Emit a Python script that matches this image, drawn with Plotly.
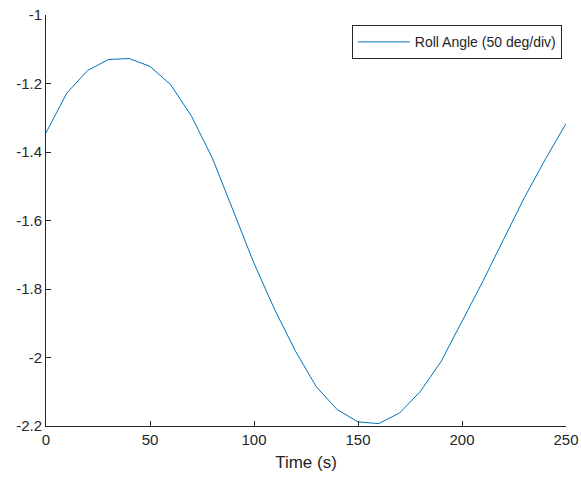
import plotly.graph_objects as go

time_s = [0, 10, 20, 30, 40, 50, 60, 70, 80, 90, 100, 110, 120, 130, 140, 150, 160, 170, 180, 190, 200, 210, 220, 230, 240, 250]
roll = [-1.344, -1.228, -1.162, -1.130, -1.127, -1.150, -1.204, -1.296, -1.418, -1.572, -1.725, -1.861,
        -1.982, -2.086, -2.152, -2.188, -2.193, -2.162, -2.099, -2.011, -1.895, -1.778, -1.655, -1.533,
        -1.422, -1.317]
x_ticks = [0, 50, 100, 150, 200, 250]
y_ticks = [-2.2, -2, -1.8, -1.6, -1.4, -1.2, -1]
y_tick_text = ["-2.2", "-2", "-1.8", "-1.6", "-1.4", "-1.2", "-1"]

fnt = "Liberation Sans, Arial, Helvetica, sans-serif"
axc = "#262626"

fig = go.Figure()
fig.add_trace(go.Scatter(x=time_s, y=roll, mode="lines", name="Roll Angle (50 deg/div)",
                         line=dict(color="#0072BD", width=1)))

fig.update_layout(
    width=581, height=481,
    margin=dict(l=46, r=15, t=15, b=55, autoexpand=False),
    paper_bgcolor="white", plot_bgcolor="white",
    font=dict(family=fnt, size=13, color=axc),
    showlegend=True,
    legend=dict(x=0.992, y=0.975, xanchor="right", yanchor="top",
                bordercolor=axc, borderwidth=1, bgcolor="white",
                font=dict(family=fnt, size=14, color=axc),
                itemwidth=52, tracegroupgap=0),
    xaxis=dict(range=[0, 250], tickvals=x_ticks, ticks="inside", ticklen=5, tickcolor=axc,
               showline=True, linecolor=axc, linewidth=1, showgrid=False, zeroline=False,
               automargin=False,
               tickfont=dict(family=fnt, size=15, color=axc),
               title=dict(text="Time (s)", font=dict(family=fnt, size=17, color=axc), standoff=9)),
    yaxis=dict(range=[-2.2, -1], tickvals=y_ticks, ticktext=y_tick_text, ticks="inside", ticklen=5,
               tickcolor=axc, showline=True, linecolor=axc, linewidth=1, showgrid=False, zeroline=False,
               automargin=False,
               tickfont=dict(family=fnt, size=15, color=axc)),
)

fig.write_html("out.html")
